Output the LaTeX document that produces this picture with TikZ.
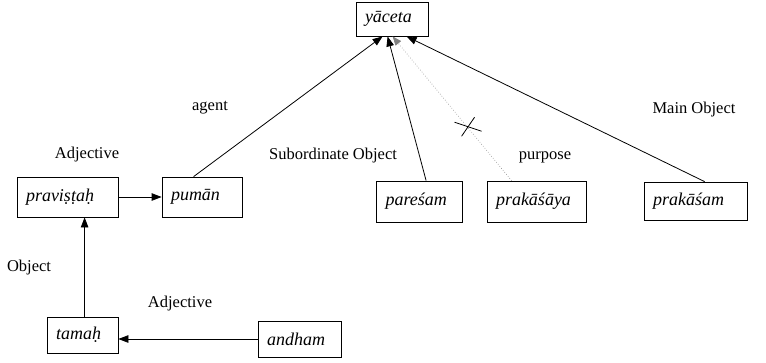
\documentclass[tikz,border=0pt]{standalone}
\usepackage{fontspec}
\setmainfont{Liberation Serif}
\usetikzlibrary{arrows.meta,calc}

\tikzset{
  wordbox/.style={draw, line width=0.8pt, inner xsep=9pt, inner ysep=0pt,
    align=left, font=\fontsize{18}{21}\selectfont\itshape},
  rel/.style={font=\fontsize{16.5}{19}\selectfont, inner sep=0pt},
  arr/.style={line width=0.8pt, -{Triangle[length=10pt,width=7.5pt]}},
  weak/.style={line width=0.6pt, dotted, gray, -{Triangle[length=9pt,width=7pt]}},
}

\begin{document}
\begin{tikzpicture}[x=1pt,y=-1pt]
\useasboundingbox (0,0) rectangle (766,362);

% word boxes
\node[wordbox, text width=54pt, minimum height=34pt] (yac) at (392,19) {yāceta};
\node[wordbox, text width=83pt, minimum height=40pt] (pra) at (67.5,197) {praviṣṭaḥ};
\node[wordbox, text width=62pt, minimum height=40pt] (pum) at (202,197) {pumān};
\node[wordbox, text width=68pt, minimum height=41pt] (par) at (419.5,201.5) {pareśam};
\node[wordbox, text width=81pt, minimum height=41pt] (pky) at (536.5,201.5) {prakāśāya};
\node[wordbox, text width=85pt, minimum height=38pt] (pkm) at (695.5,201) {prakāśam};
\node[wordbox, text width=53pt, minimum height=36pt] (tam) at (82.5,335) {tamaḥ};
\node[wordbox, text width=65pt, minimum height=36pt] (and) at (299.5,339) {andham};

% relation labels
\node[rel] (lagent) at (210,108) {agent};
\node[rel] (ladj1) at (87,155) {Adjective};
\node[rel] (lsub) at (333,156) {Subordinate Object};
\node[rel] (lpur) at (545,157) {purpose};
\node[rel] (lmain) at (694,110) {Main Object};
\node[rel] (lobj) at (29,268) {Object};
\node[rel] (ladj2) at (180,304) {Adjective};

% dependencies on the verb
\draw[arr] ([xshift=32pt]pum.north west) -- ([xshift=27pt]yac.south west);
\draw[arr] ([xshift=50pt]par.north west) -- ([xshift=32pt]yac.south west);
\coordinate (pkytop) at ([xshift=25pt]pky.north west);
\coordinate (yacdot) at ([xshift=37pt]yac.south west);
\draw[weak] (pkytop) -- (yacdot);
\draw[arr] ([xshift=61pt]pkm.north west) -- ([xshift=51pt]yac.south west);

% cross on the purpose link
\coordinate (cross) at ($(pkytop)!0.37!(yacdot)$);
\draw[line width=0.8pt] ($(cross)+(-13,-5)$) -- ($(cross)+(14,4)$);
\draw[line width=0.8pt] ($(cross)+(-6,9)$) -- ($(cross)+(7,-10)$);

% nominal dependencies
\draw[arr] (pra.east) -- (pum.west);
\draw[arr] ([xshift=38pt]tam.north west) -- ([xshift=68pt]pra.south west);
\draw[arr] (and.west) -- (and.west -| tam.east);
\end{tikzpicture}
\end{document}
